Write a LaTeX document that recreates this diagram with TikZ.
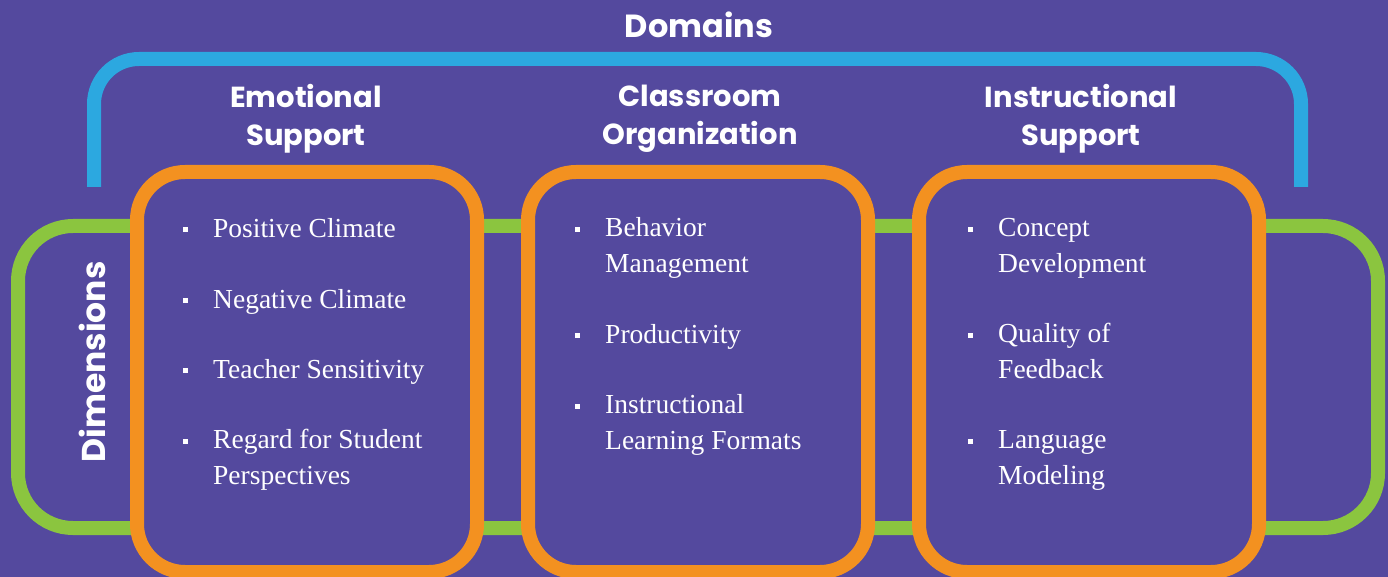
\documentclass[tikz,border=0pt]{standalone}
\usepackage{fontspec}
\setmainfont{Liberation Serif}
\newfontfamily\headfont{Poppins}
\usetikzlibrary{positioning}

\definecolor{bgpurple}{HTML}{54499E}
\definecolor{domainblue}{HTML}{2CA8E0}
\definecolor{dimgreen}{HTML}{8BC53F}
\definecolor{boxorange}{HTML}{F39120}
\newcommand{\sqbullet}{\llap{\rule[5pt]{5pt}{5pt}\hspace{25pt}}}

\begin{document}
\begin{tikzpicture}[x=1pt, y=-1pt, node distance=51pt,
	domainbox/.style={rectangle, draw=boxorange, fill=bgpurple, line width=14pt, rounded corners=48pt, minimum width=340pt, minimum height=400pt, outer sep=0pt},
	head/.style={text=white, font=\headfont\bfseries\fontsize{29}{38}\selectfont, align=center},
	itm/.style={text=white, font=\fontsize{27.5}{35.3}\selectfont, align=left, anchor=base west, inner sep=0pt}]
	\fill[bgpurple] (0,0) rectangle (1388,577);
	\useasboundingbox (0,0) rectangle (1388,577);

	% dimensions frame and domains bracket
	\draw[dimgreen, line width=14pt, rounded corners=55pt] (18,226) rectangle (1378,528);
	\coordinate (bl) at (94,187);
	\coordinate (br) at (1301,187);
	\draw[domainblue, line width=14pt, rounded corners=45pt] (bl) -- (94,59) -- (1301,59) -- (br);

	\node (domains) [head, font=\headfont\bfseries\fontsize{32}{38}\selectfont] at (699,25) {Domains};
	\node (dims) [head, rotate=90, font=\headfont\bfseries\fontsize{33}{38}\selectfont] at (92,362) {Dimensions};

	\node (emo) [domainbox] at (307,372) {};
	\node (cla) [domainbox, right=of emo] {};
	\node (ins) [domainbox, right=of cla] {};

	\node (emohead) [head] at (306,119) {Emotional\\Support};
	\node (clahead) [head] at (700,119) {Classroom\\Organization};
	\node (inshead) [head] at (1081,119) {Instructional\\Support};

	% multi-line items sit on the baseline of their last line
	\node (pc) [itm] at (213,237) {\sqbullet Positive Climate};
	\node (nc) [itm] at (213,308) {\sqbullet Negative Climate};
	\node (ts) [itm] at (213,378) {\sqbullet Teacher Sensitivity};
	\node (rsp) [itm] at (213,484) {\sqbullet Regard for Student\\Perspectives};

	\node (bm) [itm] at (605,272) {\sqbullet Behavior\\Management};
	\node (pr) [itm] at (605,343) {\sqbullet Productivity};
	\node (ilf) [itm] at (605,449) {\sqbullet Instructional\\Learning Formats};

	\node (cd) [itm] at (998,272) {\sqbullet Concept\\Development};
	\node (qf) [itm] at (998,378) {\sqbullet Quality of\\Feedback};
	\node (lm) [itm] at (998,484) {\sqbullet Language\\Modeling};
\end{tikzpicture}
\end{document}
